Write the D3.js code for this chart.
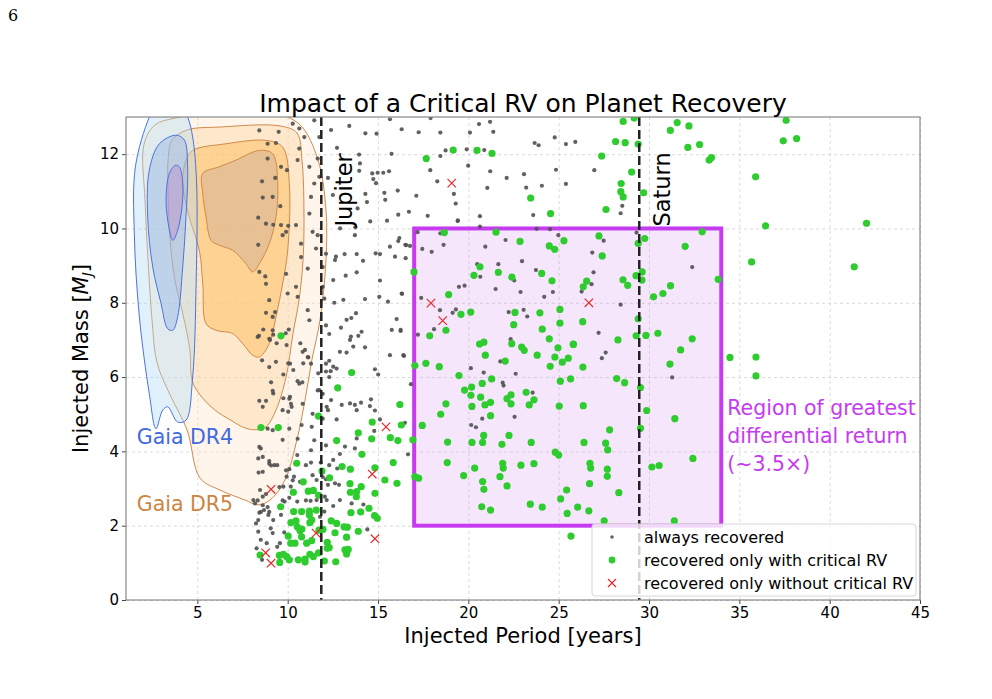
<!DOCTYPE html>
<html>
<head>
<meta charset="utf-8">
<script src="https://cdn.jsdelivr.net/npm/d3@7"></script>
<style>
  body { margin: 0; background: #fff; }
  text { font-family: "DejaVu Sans", sans-serif; }
  .grid line { stroke: #d0d0d0; stroke-dasharray: 3,3; stroke-width: 0.8; }
  .grid path { display: none; }
</style>
</head>
<body>
<div id="plot"></div>
<script>
// ---- data (period in years, mass in M_J) ----
var xTicks = [5, 10, 15, 20, 25, 30, 35, 40, 45];
var yTicks = [0, 2, 4, 6, 8, 10, 12];
var jupiterPeriod = 11.86;
var saturnPeriod = 29.46;
var regionBox = [17, 34, 2, 10]; // period min/max, mass min/max

var alwaysRecovered = [
  [19.41,10.20],[20.64,10.05],[23.78,9.99],[24.52,9.98],[17.19,9.90],[18.45,9.87],[18.63,9.56],[16.51,9.56],[16.77,9.53],[17.45,9.45],
  [17.97,9.37],[20.94,9.51],[22.06,9.69],[24.98,9.82],[16.53,9.20],[22.97,9.12],[20.49,9.04],[21.66,9.04],[20.66,8.70],[23.74,8.88],
  [22.54,8.60],[19.48,8.43],[19.79,8.46],[21.51,8.37],[22.89,8.29],[24.20,8.16],[24.68,8.29],[16.33,8.24],[17.39,8.13],[18.43,7.80],
  [19.13,7.73],[19.31,7.82],[22.23,7.75],[23.06,7.81],[23.26,7.63],[18.10,7.29],[17.21,7.14],[16.25,7.27],[22.34,7.02],[16.44,6.57],
  [21.77,6.42],[20.14,6.24],[20.85,6.12],[22.62,6.09],[16.82,5.81],[21.90,5.85],[21.95,5.77],[23.56,5.58],[16.49,4.77],[20.16,4.71],
  [20.42,4.65],[20.77,4.88],[22.56,4.93],[16.66,3.92],
  [29.31,9.89],[27.49,9.67],[26.86,9.35],[26.93,8.82],[26.82,8.50],[26.27,8.30],[28.43,7.95],[27.21,7.19],[27.60,6.66],[27.39,6.51],
  [32.39,8.96],[31.28,5.99],[26.97,11.57],[28.52,10.61],[28.43,10.41],
  [13.41,12.76],[14.30,12.56],[14.92,12.55],[15.66,12.94],[16.31,12.67],[17.25,12.59],[18.45,12.58],[17.91,12.97],[20.09,12.58],[20.59,12.81],
  [21.20,12.87],[21.38,12.60],[24.78,12.45],[23.67,12.30],[23.89,12.24],[25.40,12.27],[25.92,12.33],[13.95,11.99],[15.75,12.01],[18.74,12.10],
  [18.45,11.95],[19.91,12.13],[20.88,12.11],[14.00,11.75],[13.96,11.55],[14.68,11.48],[14.98,11.50],[15.29,11.50],[15.61,11.54],[14.74,11.33],
  [14.89,11.22],[17.89,11.57],[18.28,11.27],[19.20,10.93],[19.30,10.67],[19.99,11.69],[21.21,11.54],[22.12,11.36],[23.08,11.46],[24.85,11.58],
  [25.40,11.20],[23.20,11.10],[24.07,11.15],[21.05,11.09],[16.09,11.02],[15.35,10.96],[14.30,10.93],[14.39,10.71],[13.87,10.54],[15.40,10.77],
  [17.12,10.88],[17.75,10.34],[16.12,10.37],[16.71,10.45],[20.64,10.33],[19.42,10.22],[14.57,10.19],[15.50,10.21],[13.74,10.03],[13.72,9.82],
  [23.59,10.36],[16.18,9.74],[16.12,9.66],[16.56,9.55],[15.66,9.51],[15.94,9.24],[14.87,9.33],[15.11,9.31],[14.17,9.13],[12.67,9.24],
  [13.15,9.31],[13.82,9.31],[13.21,8.73],[13.82,8.82],[12.52,8.61],[15.11,8.60],[14.28,8.10],[15.07,8.16],[15.55,8.03],[16.31,8.25],
  [13.08,8.08],[12.58,8.00],[13.26,7.54],[13.52,7.59],[13.78,7.72],[16.03,7.56],[15.76,7.27],[16.25,7.24],[12.95,7.33],[13.50,7.09],
  [14.09,7.22],[12.40,12.65],[12.73,12.17],[12.23,11.36],[12.62,9.15],[12.90,10.00],[12.50,10.90],
  [8.41,7.11],[9.02,7.00],[9.20,7.14],[9.39,6.91],[9.89,7.18],[9.94,6.86],[10.70,6.91],[10.96,6.73],[11.14,6.53],[10.86,6.37],
  [10.03,6.37],[10.31,6.19],[9.76,6.07],[10.55,5.89],[10.81,5.86],[9.08,5.86],[9.20,5.56],[8.43,5.36],[8.80,5.36],[9.76,5.43],
  [10.13,5.47],[10.22,5.20],[10.03,5.07],[10.77,4.71],[11.33,4.66],[12.30,7.16],[12.89,6.68],[13.26,6.66],[13.63,6.82],[13.45,7.00],
  [13.91,7.11],[14.28,6.80],[15.66,6.59],[16.40,6.59],[14.83,6.21],[15.01,6.07],[12.30,6.44],[12.52,6.28],[12.71,6.23],[12.38,6.16],
  [12.12,6.15],[11.75,5.65],[11.69,6.10],[12.16,5.20],[12.23,5.11],[12.71,4.86],[12.99,5.25],[13.45,5.29],[13.72,5.25],[13.82,5.11],
  [14.06,5.31],[14.61,5.40],[14.55,5.22],[14.83,5.10],[15.11,4.86],[14.79,4.55],[13.82,4.35],[13.17,4.13],[13.72,4.08],[12.89,3.93],
  [12.52,3.77],[12.30,3.63],[12.74,3.54],[11.83,3.70],[11.29,3.70],[11.60,3.23],[12.12,3.25],[10.53,3.90],[10.09,3.52],[9.94,3.32],
  [9.42,3.63],[9.08,3.62],[8.98,3.74],[8.37,3.81],[8.51,4.08],[9.72,4.31],[8.39,3.43],[8.47,2.96],[8.62,2.78],[8.80,2.85],
  [8.10,2.69],[8.19,2.60],[8.69,2.42],[8.43,2.35],[8.37,2.15],[8.25,2.06],[8.93,2.29],[9.06,1.93],[9.17,1.80],[8.37,1.84],
  [8.51,1.62],[8.84,1.53],[8.28,1.39],[8.58,1.08],[9.20,2.15],[9.63,2.29],[9.83,2.65],[10.09,2.75],[10.17,3.05],[9.76,3.05],
  [10.35,3.32],[10.68,3.18],[10.53,2.65],[11.27,2.67],[11.60,2.69],[12.16,2.69],[12.52,2.53],[12.89,2.69],[13.54,2.60],[14.19,2.57],
  [14.41,1.90],[12.84,3.10],[12.62,3.14],[12.23,3.10],[9.81,1.82],[9.57,1.53],[9.42,1.43],[11.79,2.24],[12.03,2.38],[12.06,2.78],
  [8.43,12.64],[9.50,12.60],[8.89,12.28],[9.35,12.30],[8.89,11.88],[9.63,11.66],[9.96,11.57],[8.58,11.27],[9.31,11.36],[8.62,10.83],
  [9.17,10.85],[9.59,10.60],[8.37,10.29],[8.80,10.13],[9.20,10.10],[9.63,10.09],[10.03,10.07],[10.46,10.09],[9.91,9.91],[9.72,9.82],
  [8.37,9.56],[8.43,8.83],[8.76,8.71],[8.80,8.51],[8.98,8.07],[9.30,7.75],[8.80,7.73],[9.17,7.62],[8.65,7.28],[9.17,7.26],
  [8.34,7.08],[8.98,7.03],[10.06,7.28],[10.46,8.43],[10.00,8.25],[9.91,8.78],[8.58,6.45],[8.98,6.27],[9.35,6.41],[10.13,6.36],
  [9.17,5.63],[8.62,5.20],[10.09,5.42],[10.18,5.28],[9.72,5.11],[8.89,4.61],[9.17,4.57],[10.09,4.61],[8.43,4.12],[8.62,3.85],
  [8.98,3.67],[9.26,3.63],[8.62,3.45],[8.34,2.68],[8.62,2.55],[8.89,2.50],[8.52,2.37],[8.98,2.37],[10.28,12.82],[10.64,12.69],
  [10.92,12.46],[10.64,12.15],[10.55,11.84],[11.20,11.66],[11.47,11.21],[11.29,10.85],[11.20,10.40],[11.38,9.91],[11.66,9.82],[11.57,9.46],
  [10.74,9.59],[10.74,9.23],[11.11,8.92],[11.94,8.43],[10.55,8.16],[11.11,7.80],[11.20,7.53],[10.83,6.68],[11.11,6.54],[11.29,6.36],
  [10.64,5.82],[11.66,5.64],[11.94,5.55],[10.83,5.28],[11.38,5.01],[11.94,4.88],[10.55,4.34],[11.47,4.30],[12.12,4.16],[11.29,4.03],
  [11.01,3.63],[11.38,3.36],[11.94,3.31],[9.91,3.49],[10.28,3.22],[9.54,3.04],[9.72,2.68],[11.01,2.68],[11.47,12.91],[11.75,12.46],
  [11.66,11.88],[11.75,11.39],[12.12,9.32],[11.94,8.96],[12.03,8.11],[12.12,7.39],[12.12,6.36],[12.30,6.00],[12.40,5.38]
];

var criticalOnly = [
  [18.67,9.89],[21.53,9.90],[22.86,9.65],[24.48,9.53],[24.78,9.44],[25.29,9.67],[16.99,8.83],[20.64,8.97],[20.31,8.74],[21.66,8.82],
  [22.41,8.69],[24.06,8.79],[24.63,8.59],[18.91,8.22],[20.13,7.75],[19.59,7.69],[22.58,7.74],[23.96,7.73],[25.07,7.82],[25.07,7.45],
  [22.51,7.41],[24.09,7.29],[24.48,7.03],[17.86,7.11],[18.76,7.26],[20.62,6.89],[20.86,6.94],[20.94,6.59],[22.40,6.90],[22.95,6.81],
  [23.09,6.72],[23.81,6.59],[24.96,6.79],[25.81,6.89],[24.79,6.54],[25.20,6.40],[25.53,6.51],[24.53,6.29],[17.04,6.31],[17.65,6.37],
  [18.39,6.28],[22.04,6.43],[19.48,6.04],[21.29,5.95],[20.77,5.83],[25.09,5.89],[25.66,5.95],[19.79,5.65],[20.18,5.73],[20.14,5.51],
  [20.68,5.46],[20.20,5.21],[20.92,5.25],[21.23,5.32],[21.23,4.96],[22.14,5.42],[22.36,5.52],[22.36,5.28],[23.20,5.59],[23.63,5.39],
  [23.37,5.25],[25.03,5.22],[18.76,5.28],[18.47,5.00],[17.45,4.70],[16.93,4.31],[18.85,4.25],[20.20,4.24],[20.79,4.24],[20.85,4.43],
  [21.86,4.19],[22.25,4.43],[23.48,4.24],[24.81,3.98],[25.00,3.90],[18.83,3.70],[20.35,3.55],[21.90,3.68],[21.93,3.55],[22.91,3.63],
  [23.63,3.67],[19.74,3.35],[20.79,3.19],[20.86,2.98],[21.75,3.32],[22.14,3.07],[17.04,3.32],[17.25,3.28],[25.44,2.96],[25.11,2.72],
  [20.74,2.51],[21.23,2.42],[23.43,2.58],[24.09,2.50],[25.47,2.33],[26.05,2.50],
  [27.23,9.80],[27.41,9.26],[26.55,8.58],[26.36,8.43],[28.56,8.62],[28.82,8.47],[29.28,8.73],[29.62,8.83],[29.61,8.61],[29.76,9.73],
  [29.40,9.60],[32.94,9.91],[32.00,9.52],[33.83,8.63],[31.19,8.46],[30.77,8.25],[30.25,8.16],[29.40,7.57],[26.33,7.49],[29.29,7.11],
  [29.83,7.12],[30.49,7.18],[32.39,7.03],[28.28,7.00],[25.81,6.88],[31.75,6.73],[31.16,6.35],[26.34,6.27],[28.21,5.96],[28.65,5.85],
  [29.53,5.72],[26.36,5.23],[29.87,5.10],[31.43,4.88],[27.82,4.58],[29.53,4.62],[26.40,4.24],[27.60,4.22],[27.71,4.04],[32.43,3.81],
  [26.73,3.68],[26.77,3.55],[27.69,3.52],[27.69,3.33],[30.16,3.58],[30.56,3.62],[26.71,3.13],[28.33,2.89],[26.67,2.40],[27.52,2.13],
  [31.40,2.13],[34.48,6.53],[35.92,6.54],[35.92,6.03],[25.68,1.72],
  [28.57,12.88],[29.18,12.97],[31.56,12.85],[32.21,12.76],[31.18,12.64],[28.15,12.34],[28.68,12.31],[29.40,12.27],[32.80,12.26],[32.15,12.18],
  [33.46,11.91],[33.33,11.84],[27.38,11.95],[29.04,11.52],[28.46,11.21],[28.44,10.99],[28.57,10.85],[29.70,10.96],[27.62,10.51],[37.59,12.91],
  [37.43,12.36],[38.17,12.42],[35.90,11.39],[36.45,10.07],[42.04,10.14],[35.68,9.10],[41.36,8.97],
  [19.16,12.11],[20.48,12.10],[21.31,12.02],[17.67,11.88],[23.45,10.82],[24.55,10.40],
  [9.63,7.11],[13.54,6.12],[12.77,5.71],[11.70,4.95],[8.52,4.64],[9.48,4.64],[12.71,4.29],[13.91,4.50],[14.65,4.34],[14.68,4.79],
  [16.21,5.26],[16.29,4.71],[15.68,4.37],[16.10,4.29],[14.11,3.92],[10.50,3.68],[13.01,3.59],[13.47,3.52],[12.32,3.29],[10.86,3.18],
  [10.31,2.90],[11.14,2.93],[11.42,2.95],[11.71,2.82],[11.90,3.47],[13.45,3.13],[14.07,3.05],[13.82,2.92],[13.47,2.90],[13.80,2.78],
  [14.83,2.87],[14.83,3.56],[15.84,3.70],[15.38,3.23],[16.05,3.14],[9.61,2.51],[10.33,2.38],[10.77,2.38],[11.20,2.39],[11.58,2.42],
  [13.50,2.35],[14.04,2.37],[14.50,2.47],[14.81,2.27],[14.96,2.20],[10.18,2.08],[10.46,2.13],[10.53,1.97],[10.79,1.91],[11.23,2.08],
  [11.20,2.29],[11.33,2.15],[11.73,1.88],[11.95,1.90],[12.41,2.13],[12.71,2.06],[13.12,1.97],[13.30,1.96],[13.91,1.85],[10.03,1.72],
  [10.40,1.53],[10.68,1.87],[10.77,1.70],[11.33,1.60],[11.05,1.53],[12.19,1.55],[12.30,1.41],[12.62,1.81],[13.26,1.69],[10.17,1.53],
  [9.76,1.23],[9.54,1.20],[10.09,1.08],[9.94,1.17],[10.59,1.08],[10.96,1.10],[11.23,1.23],[11.42,1.17],[11.71,1.27],[12.19,1.39],
  [13.17,1.35],[13.35,1.36],[13.26,1.24],[10.96,1.02],[12.03,1.05],[12.66,1.03],[9.56,1.01],[8.47,1.21]
];

var withoutCritical = [
  [17.93,7.99],[18.58,7.52],[26.67,8.00],[19.08,11.22],[9.08,2.98],[14.68,3.39],[15.44,4.66],[11.57,1.80],[14.83,1.65],[8.78,1.27],[9.08,0.99]
];

// density contours, outer to inner
var dr5Levels = [
  [[2.05,12.27],[2.66,12.79],[3.76,12.97],[5.98,13.14],[9.02,13.14],[10.68,12.79],[11.68,11.84],[12.12,10.50],[12.12,9.15],[11.79,7.54],
   [11.34,6.46],[10.96,5.38],[10.51,4.31],[9.85,3.23],[9.02,2.69],[8.36,2.56],[7.64,2.69],[6.25,2.96],[5.15,3.28],[4.43,4.58],
   [3.49,5.52],[2.77,6.38],[2.49,7.54],[2.27,9.15],[2.10,10.77]],
  [[3.60,12.38],[4.43,12.65],[6.25,12.73],[9.57,12.76],[10.51,12.57],[10.79,11.84],[10.90,10.50],[10.85,9.15],[10.63,8.08],[10.29,7.16],
   [9.91,6.00],[9.35,5.11],[8.80,4.66],[8.25,4.58],[7.64,4.63],[6.81,4.85],[5.98,5.11],[5.15,5.52],[4.70,5.92],[4.59,6.73],
   [4.21,7.67],[3.76,8.61],[3.49,9.69],[3.38,11.04],[3.38,11.84]],
  [[4.74,12.10],[6.59,12.28],[8.80,12.37],[9.72,12.19],[10.09,11.21],[10.00,9.41],[9.72,8.51],[9.35,7.62],[8.98,6.90],[8.43,6.54],
   [8.06,6.59],[7.51,6.90],[6.96,7.17],[6.03,7.26],[5.48,7.44],[5.30,8.51],[5.11,9.41],[4.55,10.31],[4.19,11.21],[4.37,11.84]],
  [[5.30,11.48],[6.21,11.66],[7.14,11.84],[8.43,12.10],[9.17,12.01],[9.45,11.21],[9.35,10.31],[8.98,9.59],[8.43,9.05],[8.06,8.83],
   [7.69,9.05],[6.96,9.41],[6.21,9.55],[5.76,9.68],[5.48,10.31],[5.30,10.94]]
];
var dr4Levels = [
  [[2.34,13.0],[2.90,13.5],[3.80,13.6],[4.46,13.0],[4.74,12.46],[4.96,11.20],[4.93,8.51],[4.74,6.00],[4.37,4.84],[3.91,4.79],
   [3.36,5.20],[3.08,5.11],[2.71,4.61],[2.34,5.55],[1.79,7.62],[1.51,9.86],[1.57,11.66]],
  [[3.82,12.51],[4.28,12.38],[4.46,11.66],[4.37,10.31],[4.19,8.96],[3.91,7.62],[3.64,7.26],[3.36,7.30],[2.99,7.98],[2.53,8.96],
   [2.25,10.31],[2.34,11.57],[2.90,12.28]],
  [[3.78,11.70],[4.00,11.66],[4.19,11.21],[4.15,10.58],[3.91,9.95],[3.64,9.68],[3.36,10.22],[3.27,10.85],[3.45,11.48]]
];
var dr5Fills = ["rgba(255,222,185,0.3)", "rgba(252,210,155,0.38)", "rgba(251,192,100,0.55)", "rgba(210,175,150,0.5)"];
var dr4Fills = ["rgba(175,218,245,0.38)", "rgba(135,170,228,0.38)", "rgba(185,135,205,0.42)"];

// ---- layout ----
var svgWidth = 992, svgHeight = 699;
var margin = { top: 117, right: 72, bottom: 99, left: 126 };
var width = svgWidth - margin.left - margin.right;
var height = svgHeight - margin.top - margin.bottom;

var svg = d3.select("#plot").append("svg")
  .attr("width", svgWidth)
  .attr("height", svgHeight);

svg.append("text")
  .attr("x", 8).attr("y", 21)
  .style("font-family", "'DejaVu Serif', serif")
  .attr("font-size", "16px")
  .text("6");

var chartGroup = svg.append("g")
  .attr("transform", `translate(${margin.left}, ${margin.top})`);

var xScale = d3.scaleLinear().domain([1.05, 45]).range([0, width]);
var yScale = d3.scaleLinear().domain([0, 13]).range([height, 0]);

svg.append("defs").append("clipPath").attr("id", "plotClip")
  .append("rect").attr("width", width).attr("height", height);

// gridlines
chartGroup.append("g").attr("class", "grid")
  .attr("transform", `translate(0, ${height})`)
  .call(d3.axisBottom(xScale).tickValues(xTicks).tickSize(-height).tickFormat(""));
chartGroup.append("g").attr("class", "grid")
  .call(d3.axisLeft(yScale).tickValues(yTicks).tickSize(-width).tickFormat(""));

var plotArea = chartGroup.append("g").attr("clip-path", "url(#plotClip)");

var contourLine = d3.line()
  .x(d => xScale(d[0]))
  .y(d => yScale(d[1]))
  .curve(d3.curveCatmullRomClosed.alpha(0.5));

dr5Levels.forEach(function(level, i) {
  plotArea.append("path")
    .attr("d", contourLine(level))
    .attr("fill", dr5Fills[i])
    .attr("stroke", "#d08a4c")
    .attr("stroke-width", 1);
});
dr4Levels.forEach(function(level, i) {
  plotArea.append("path")
    .attr("d", contourLine(level))
    .attr("fill", dr4Fills[i])
    .attr("stroke", "#4a72e0")
    .attr("stroke-width", 1);
});

// region of greatest differential return
var purple = "#c63bf0";
plotArea.append("rect")
  .attr("x", xScale(regionBox[0]))
  .attr("y", yScale(regionBox[3]))
  .attr("width", xScale(regionBox[1]) - xScale(regionBox[0]))
  .attr("height", yScale(regionBox[2]) - yScale(regionBox[3]))
  .attr("fill", "rgba(214,140,240,0.22)")
  .attr("stroke", purple)
  .attr("stroke-width", 4);

// points
plotArea.selectAll(".grey")
  .data(alwaysRecovered).enter()
  .append("circle")
  .attr("cx", d => xScale(d[0]))
  .attr("cy", d => yScale(d[1]))
  .attr("r", 2.1)
  .attr("fill", "#505050")
  .attr("opacity", 0.9);

plotArea.selectAll(".green")
  .data(criticalOnly).enter()
  .append("circle")
  .attr("cx", d => xScale(d[0]))
  .attr("cy", d => yScale(d[1]))
  .attr("r", 3.6)
  .attr("fill", "#2ecc2e");

function crossPath(cx, cy, s) {
  return `M${cx - s},${cy - s}L${cx + s},${cy + s}M${cx - s},${cy + s}L${cx + s},${cy - s}`;
}
plotArea.selectAll(".red")
  .data(withoutCritical).enter()
  .append("path")
  .attr("d", d => crossPath(xScale(d[0]), yScale(d[1]), 4.2))
  .attr("stroke", "#e8282a")
  .attr("stroke-width", 1.2)
  .attr("fill", "none");

// Jupiter / Saturn lines
[jupiterPeriod, saturnPeriod].forEach(function(p) {
  chartGroup.append("line")
    .attr("x1", xScale(p)).attr("x2", xScale(p))
    .attr("y1", 0).attr("y2", height)
    .attr("stroke", "#222")
    .attr("stroke-width", 2.5)
    .attr("stroke-dasharray", "9,4");
});
[["Jupiter", jupiterPeriod], ["Saturn", saturnPeriod]].forEach(function(d) {
  chartGroup.append("text")
    .attr("transform", `translate(${xScale(d[1]) + 31}, ${yScale(10.05)}) rotate(-90)`)
    .attr("font-size", "22.5px")
    .attr("fill", "#000")
    .text(d[0]);
});

// axes
var bottomAxis = d3.axisBottom(xScale).tickValues(xTicks).tickSize(4).tickPadding(3);
var leftAxis = d3.axisLeft(yScale).tickValues(yTicks).tickSize(4).tickPadding(3);
var xAxisG = chartGroup.append("g").attr("transform", `translate(0, ${height})`).call(bottomAxis);
var yAxisG = chartGroup.append("g").call(leftAxis);
[xAxisG, yAxisG].forEach(function(g) {
  g.select(".domain").remove();
  g.selectAll("text").attr("font-size", "15px").attr("fill", "#000")
    .style("font-family", "'DejaVu Sans', sans-serif");
  g.selectAll("line").attr("stroke", "#444");
});
chartGroup.append("rect")
  .attr("width", width).attr("height", height)
  .attr("fill", "none").attr("stroke", "#888").attr("stroke-width", 1.2);

// labels
chartGroup.append("text")
  .attr("x", width / 2).attr("y", -5)
  .attr("text-anchor", "middle")
  .attr("font-size", "25px")
  .text("Impact of a Critical RV on Planet Recovery");

chartGroup.append("text")
  .attr("x", width / 2).attr("y", height + 43)
  .attr("text-anchor", "middle")
  .attr("font-size", "21px")
  .text("Injected Period [years]");

var yLabel = chartGroup.append("text")
  .attr("transform", `translate(-38, ${height / 2}) rotate(-90)`)
  .attr("text-anchor", "middle")
  .attr("font-size", "21px");
yLabel.append("tspan").text("Injected Mass [");
yLabel.append("tspan").attr("font-style", "italic").text("M");
yLabel.append("tspan").attr("font-style", "italic").attr("font-size", "14px").attr("dy", 4).text("J");
yLabel.append("tspan").attr("dy", -4).text("]");

chartGroup.append("text")
  .attr("x", xScale(1.65)).attr("y", yScale(4.2))
  .attr("font-size", "20.5px").attr("fill", "#4169e1")
  .text("Gaia DR4");
chartGroup.append("text")
  .attr("x", xScale(1.65)).attr("y", yScale(2.4))
  .attr("font-size", "20.5px").attr("fill", "#cd853f")
  .text("Gaia DR5");

var regionText = ["Region of greatest", "differential return", "(~3.5\u00d7)"];
regionText.forEach(function(t, i) {
  chartGroup.append("text")
    .attr("x", xScale(regionBox[1]) + 6)
    .attr("y", yScale(4.97) + i * 28)
    .attr("font-size", "20.5px")
    .attr("fill", purple)
    .text(t);
});

// legend
var legend = chartGroup.append("g")
  .attr("transform", `translate(${width - 328}, ${height - 76})`);
legend.append("rect")
  .attr("width", 324).attr("height", 72).attr("rx", 3)
  .attr("fill", "rgba(255,255,255,0.8)")
  .attr("stroke", "#d6d6d6");
var legendItems = ["always recovered", "recovered only with critical RV", "recovered only without critical RV"];
legendItems.forEach(function(label, i) {
  var ly = 13 + i * 23;
  if (i === 0) {
    legend.append("circle").attr("cx", 20).attr("cy", ly).attr("r", 1.8).attr("fill", "#666");
  } else if (i === 1) {
    legend.append("circle").attr("cx", 20).attr("cy", ly).attr("r", 3.4).attr("fill", "#2ecc2e");
  } else {
    legend.append("path").attr("d", crossPath(20, ly, 4)).attr("stroke", "#e8282a")
      .attr("stroke-width", 1.2).attr("fill", "none");
  }
  legend.append("text")
    .attr("x", 52).attr("y", ly + 5.5)
    .attr("font-size", "16px")
    .text(label);
});
</script>
</body>
</html>
